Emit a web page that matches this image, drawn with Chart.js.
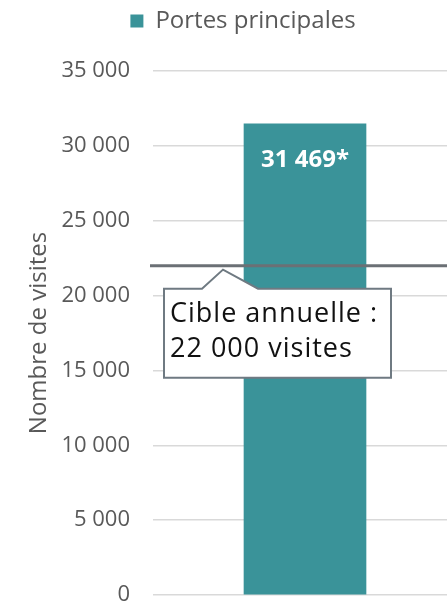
<!DOCTYPE html>
<html>
<head>
<meta charset="utf-8">
<script src="https://cdn.jsdelivr.net/npm/chart.js@4"></script>
<style>
  html, body { margin: 0; padding: 0; background: #fff; overflow: hidden; }
  #wrap { width: 457px; height: 604px; }
</style>
</head>
<body>
<div id="wrap"><canvas id="chart"></canvas></div>
<script>
const categories = ['Portes principales'];
const seriesLabel = 'Portes principales';
const visits = [31469];
const dataLabels = ['31 469*'];
const target = 22000;
const targetText = ['Cible annuelle :', '22 000 visites'];
const yTicks = [0, 5000, 10000, 15000, 20000, 25000, 30000, 35000];

const TEAL = '#3a9399';
const GREY_TEXT = '#595959';
const FONT = '"Open Sans", "DejaVu Sans", sans-serif';

function fmt(v) {
    return String(v).replace(/\B(?=(\d{3})+(?!\d))/g, ' ');
}

// Fix legend height so the plot area starts where the reference does,
// and nudge it right a bit
const legendFix = {
    id: 'legendFix',
    afterInit(chart) {
        const lg = chart.legend;
        const orig = lg.fit;
        lg.fit = function () {
            orig.call(this);
            this.height = 71;
        };
    },
    afterLayout(chart) {
        chart.legend.left += 29;
    }
};

// Bar value label
const barLabel = {
    id: 'barLabel',
    afterDatasetsDraw(chart) {
        const ctx = chart.ctx;
        const meta = chart.getDatasetMeta(0);
        ctx.save();
        ctx.fillStyle = '#ffffff';
        ctx.font = 'bold 24px ' + FONT;
        ctx.textAlign = 'center';
        ctx.textBaseline = 'middle';
        meta.data.forEach((bar, i) => {
            ctx.fillText(dataLabels[i], bar.x, bar.y + 36);
        });
        ctx.restore();
    }
};

// Target line + callout
const targetLine = {
    id: 'targetLine',
    afterDatasetsDraw(chart) {
        const ctx = chart.ctx;
        const y = chart.scales.y.getPixelForValue(target);
        const left = chart.chartArea.left - 3;
        const right = chart.width;
        ctx.save();
        ctx.strokeStyle = '#6b7075';
        ctx.lineWidth = 3;
        ctx.beginPath();
        ctx.moveTo(left, y);
        ctx.lineTo(right, y);
        ctx.stroke();

        // callout box with pointer
        const bx = left + 14, bw = 227;
        const by = y + 23, bh = 89;
        const px = left + 73;
        ctx.beginPath();
        ctx.moveTo(bx, by);
        ctx.lineTo(px - 21, by);
        ctx.lineTo(px, y + 4);
        ctx.lineTo(px + 35, by);
        ctx.lineTo(bx + bw, by);
        ctx.lineTo(bx + bw, by + bh);
        ctx.lineTo(bx, by + bh);
        ctx.closePath();
        ctx.fillStyle = '#ffffff';
        ctx.fill();
        ctx.strokeStyle = '#6f7a82';
        ctx.lineWidth = 2;
        ctx.stroke();

        ctx.fillStyle = '#111111';
        ctx.font = '27px ' + FONT;
        ctx.letterSpacing = '1px';
        ctx.textAlign = 'left';
        ctx.textBaseline = 'alphabetic';
        ctx.fillText(targetText[0], bx + 6, by + 33);
        ctx.fillText(targetText[1], bx + 6, by + 68);
        ctx.restore();
    }
};

new Chart(document.getElementById('chart'), {
    type: 'bar',
    data: {
        labels: categories,
        datasets: [{
            label: seriesLabel,
            data: visits,
            backgroundColor: TEAL,
            borderWidth: 0,
            barThickness: 122
        }]
    },
    options: {
        responsive: true,
        maintainAspectRatio: false,
        animation: false,
        layout: { padding: { top: 0, right: 0, bottom: 9, left: 0 } },
        plugins: {
            legend: {
                position: 'top',
                labels: {
                    boxWidth: 13,
                    boxHeight: 13,
                    color: GREY_TEXT,
                    font: { family: FONT, size: 24 },
                    padding: 9
                }
            },
            tooltip: { enabled: false }
        },
        scales: {
            x: {
                display: false
            },
            y: {
                min: 0,
                max: 35000,
                afterBuildTicks(scale) {
                    scale.ticks = yTicks.map(v => ({ value: v }));
                },
                afterFit(scale) {
                    scale.width = 153;
                },
                ticks: {
                    color: GREY_TEXT,
                    font: { family: FONT, size: 22, lineHeight: 0.8 },
                    padding: 0,
                    callback: v => fmt(v)
                },
                grid: {
                    color: '#d9d9d9',
                    lineWidth: 1.5,
                    drawTicks: true,
                    tickLength: 23,
                    tickColor: 'rgba(0,0,0,0)'
                },
                border: { display: false },
                title: {
                    display: true,
                    text: 'Nombre de visites',
                    color: GREY_TEXT,
                    font: { family: FONT, size: 24 },
                    padding: { top: 25, bottom: 0 }
                }
            }
        }
    },
    plugins: [legendFix, barLabel, targetLine]
});
</script>
</body>
</html>
